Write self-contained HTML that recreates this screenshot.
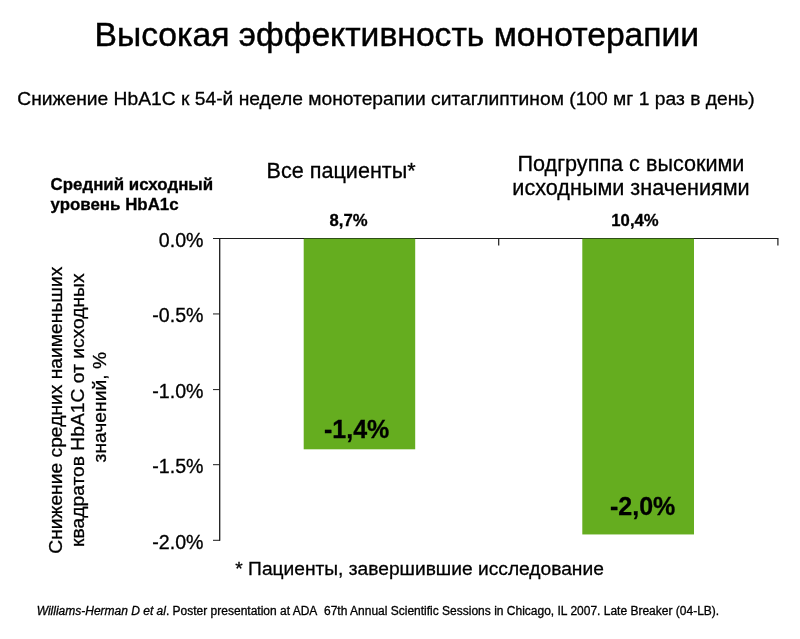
<!DOCTYPE html>
<html lang="ru">
<head>
<meta charset="utf-8">
<title>Высокая эффективность монотерапии</title>
<style>
html,body{margin:0;padding:0;background:#fff;}
body{width:800px;height:639px;position:relative;overflow:hidden;font-family:"Liberation Sans",sans-serif;color:#000;}
.t{position:absolute;white-space:nowrap;line-height:1;-webkit-text-stroke:0.3px #000;}
#title{left:94.5px;top:17.5px;font-size:33.67px;-webkit-text-stroke:0.45px #000;}
#sub{left:17.3px;top:89.3px;font-size:19.25px;}
#lbl{left:50.5px;top:174.7px;font-size:16.9px;font-weight:bold;line-height:20px;}
#g1{left:266.6px;top:159.6px;font-size:21.6px;}
#g2{left:481px;width:300px;top:152.4px;font-size:21.62px;text-align:center;line-height:24px;}
.v{font-size:16.7px;font-weight:bold;top:213px;width:100px;text-align:center;}
.tick{transform:translateY(0.6px);font-size:19.6px;width:100px;text-align:right;left:103.5px;}
.bl{font-size:25px;font-weight:bold;}
#fn{left:235.3px;top:559.2px;font-size:19.2px;}
#ref{left:36.7px;top:604.8px;font-size:12px;}
svg{position:absolute;left:0;top:0;}
svg text{stroke:#000;stroke-width:0.3px;font-family:"Liberation Sans",sans-serif;font-size:19.25px;fill:#000;}
</style>
</head>
<body>
<div class="t" id="title">Высокая эффективность монотерапии</div>
<div class="t" id="sub">Снижение HbA1C к 54-й неделе монотерапии ситаглиптином (100 мг 1 раз в день)</div>
<div class="t" id="lbl">Средний исходный<br>уровень HbA1c</div>
<div class="t" id="g1">Все пациенты*</div>
<div class="t" id="g2">Подгруппа с высокими<br>исходными значениями</div>
<div class="t v" style="left:298.5px">8,7%</div>
<div class="t v" style="left:585px">10,4%</div>

<svg width="800" height="639" viewBox="0 0 800 639">
<rect x="303.7" y="238" width="111.5" height="211.3" fill="#65ad1f"/>
<rect x="582.3" y="238" width="111.7" height="296.45" fill="#65ad1f"/>
<g stroke="#1c1c1c" stroke-width="1" fill="none">
<path d="M213 238.5H778.4"/>
<path d="M304 238.5H415M582.5 238.5H694" stroke="#2f5016"/>
<path d="M219.7 238V540.8" stroke-width="1.3"/>
<path d="M498.7 238.5V245.5M777.9 238.5V245.5" stroke-width="1.2"/>
<path d="M213 313.95H220M213 389.6H220M213 464.7H220M213 540.3H220"/>
</g>
<text transform="translate(62,410.25) rotate(-90)" text-anchor="middle">Снижение средних наименьших</text>
<text transform="translate(83.75,410.2) rotate(-90)" text-anchor="middle">квадратов HbA1C от исходных</text>
<text transform="translate(105.75,407.2) rotate(-90)" text-anchor="middle">значений, %</text>
</svg>

<div class="t tick" style="top:230.2px">0.0%</div>
<div class="t tick" style="top:305.4px">-0.5%</div>
<div class="t tick" style="top:381px">-1.0%</div>
<div class="t tick" style="top:456.2px">-1.5%</div>
<div class="t tick" style="top:531.6px">-2.0%</div>

<div class="t bl" style="left:324px;top:417px">-1,4%</div>
<div class="t bl" style="left:610px;top:494px">-2,0%</div>

<div class="t" id="fn">* Пациенты, завершившие исследование</div>
<div class="t" id="ref"><i>Williams-Herman D et al</i>. Poster presentation at ADA&nbsp; 67th Annual Scientific Sessions in Chicago, IL 2007. Late Breaker (04-LB).</div>
</body>
</html>
